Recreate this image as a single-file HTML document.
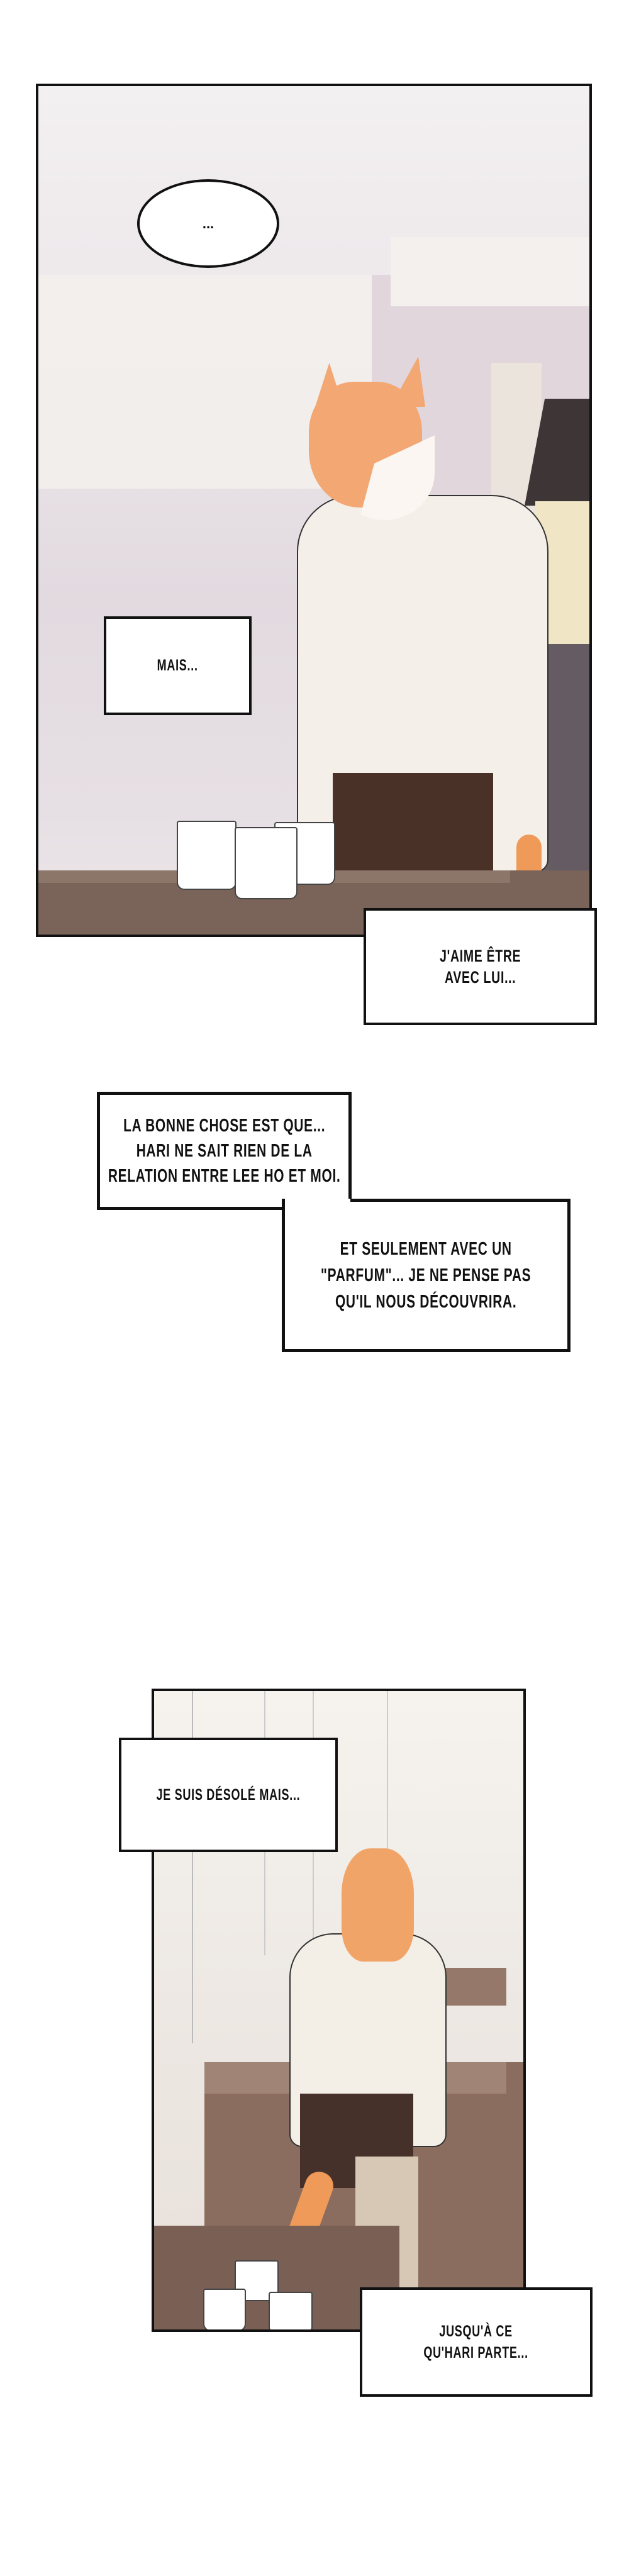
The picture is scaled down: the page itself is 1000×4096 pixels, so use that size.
<!DOCTYPE html>
<html><head><meta charset="utf-8"><style>
*{margin:0;padding:0;box-sizing:border-box}
body{width:1000px;height:4096px;background:#fff;position:relative;overflow:hidden;font-family:"Liberation Sans",sans-serif}
.a{position:absolute}
.box{position:absolute;background:#fff;border:4px solid #111;display:flex;align-items:center;justify-content:center;text-align:center;font-weight:bold;color:#111}
.box span{display:inline-block;white-space:nowrap;transform:scaleX(.72);letter-spacing:1px}
.cup{position:absolute;background:#fff;border:2px solid #444;border-radius:4px 4px 12px 12px}
</style></head><body>

<!-- Panel 1 -->
<div class="a" style="left:57px;top:133px;width:884px;height:1357px;border:4px solid #111;overflow:hidden;background:linear-gradient(180deg,#f3f0f1 0%,#ece7ea 30%,#e2dadf 60%,#e6dfe3 85%,#ece7ea 100%)">
  <div class="a" style="left:0;top:300px;width:560px;height:340px;background:#f3f0ec;opacity:.85"></div>
  <div class="a" style="left:530px;top:300px;width:350px;height:560px;background:#e0d6dc"></div>
  <div class="a" style="left:560px;top:240px;width:320px;height:110px;background:#f3f0ee"></div>
  <div class="a" style="left:720px;top:440px;width:80px;height:300px;background:#ebe4dc"></div>
  <!-- lamp -->
  <div class="a" style="left:773px;top:497px;width:107px;height:170px;background:#3e3537;clip-path:polygon(30% 0,100% 0,100% 100%,0 100%)"></div>
  <div class="a" style="left:790px;top:660px;width:90px;height:230px;background:#f0e6c6"></div>
  <div class="a" style="left:783px;top:887px;width:97px;height:440px;background:#645b63"></div>
  <!-- shirt -->
  <div class="a" style="left:411px;top:650px;width:400px;height:600px;background:#f4efe9;border:2px solid #333;border-radius:90px 90px 20px 20px"></div>
  <!-- apron -->
  <div class="a" style="left:468px;top:1092px;width:255px;height:175px;background:#4a3128"></div>
  <!-- head -->
  <div class="a" style="left:430px;top:470px;width:180px;height:200px;background:#f3a772;border-radius:40% 40% 45% 45%"></div>
  <div class="a" style="left:470px;top:540px;width:160px;height:150px;background:#fbf6f2;border-radius:0 0 50% 50%;clip-path:polygon(40% 40%,100% 10%,100% 100%,25% 100%)"></div>
  <div class="a" style="left:440px;top:440px;width:45px;height:70px;background:#f3a772;clip-path:polygon(50% 0,100% 100%,0 100%)"></div>
  <div class="a" style="left:560px;top:430px;width:55px;height:80px;background:#f3a772;clip-path:polygon(80% 0,100% 100%,0 100%)"></div>
  <!-- orange tail -->
  <div class="a" style="left:760px;top:1190px;width:40px;height:110px;background:#f09a5a;border-radius:20px"></div>
  <!-- table -->
  <div class="a" style="left:0;top:1247px;width:884px;height:113px;background:#7a6358"></div>
  <div class="a" style="left:0;top:1247px;width:750px;height:20px;background:#8c766a"></div>
  <!-- mugs -->
  <div class="cup" style="left:220px;top:1168px;width:95px;height:110px"></div>
  <div class="cup" style="left:375px;top:1170px;width:97px;height:100px"></div>
  <div class="cup" style="left:312px;top:1178px;width:100px;height:115px"></div>
</div>

<div class="a" style="left:218px;top:285px;width:226px;height:141px;border:4px solid #111;border-radius:50%;background:#fff;display:flex;align-items:center;justify-content:center;font-size:22px;font-weight:bold">...</div>
<div class="box" style="left:165px;top:980px;width:235px;height:157px;font-size:25px"><span>MAIS...</span></div>
<div class="box" style="left:578px;top:1444px;width:371px;height:186px;font-size:27px;line-height:34px"><span>J'AIME ÊTRE<br>AVEC LUI...</span></div>

<div class="box" style="left:154px;top:1736px;width:405px;height:188px;font-size:29px;line-height:40px;border-width:5px"><span>LA BONNE CHOSE EST QUE...<br>HARI NE SAIT RIEN DE LA<br>RELATION ENTRE LEE HO ET MOI.</span></div>
<div class="box" style="left:448px;top:1906px;width:459px;height:244px;font-size:29px;line-height:42px;border-width:5px;border-top:none;padding-top:4px"><span>ET SEULEMENT AVEC UN<br>"PARFUM"... JE NE PENSE PAS<br>QU'IL NOUS DÉCOUVRIRA.</span></div>
<div class="a" style="left:557px;top:1906px;width:350px;height:5px;background:#111"></div>

<!-- Panel 2 -->
<div class="a" style="left:241px;top:2685px;width:595px;height:1023px;border:4px solid #111;overflow:hidden;background:linear-gradient(180deg,#f6f3ef 0%,#ede8e3 50%,#e8e0da 100%)">
  <div class="a" style="left:60px;top:0;width:2px;height:560px;background:#bbb"></div>
  <div class="a" style="left:175px;top:0;width:2px;height:420px;background:#ccc"></div>
  <div class="a" style="left:252px;top:0;width:2px;height:430px;background:#ccc"></div>
  <div class="a" style="left:370px;top:0;width:2px;height:270px;background:#ccc"></div>
  <div class="a" style="left:80px;top:590px;width:515px;height:430px;background:#8a6d5f"></div>
  <div class="a" style="left:80px;top:590px;width:480px;height:50px;background:#a08476"></div>
  <div class="a" style="left:220px;top:440px;width:340px;height:60px;background:#96786a"></div>
  <!-- person -->
  <div class="a" style="left:215px;top:385px;width:250px;height:340px;background:#f3eee6;border:2px solid #333;border-radius:70px 70px 20px 20px"></div>
  <div class="a" style="left:232px;top:640px;width:180px;height:150px;background:#45302a"></div>
  <div class="a" style="left:320px;top:740px;width:100px;height:245px;background:#d7c8b5"></div>
  <div class="a" style="left:298px;top:250px;width:115px;height:180px;background:#f1a468;border-radius:40% 40% 30% 30%"></div>
  <div class="a" style="left:215px;top:760px;width:45px;height:190px;background:#ef9a58;border-radius:22px;transform:rotate(20deg)"></div>
  <!-- tray and cups -->
  <div class="a" style="left:0;top:850px;width:390px;height:170px;background:#7a5f55"></div>
  <div class="cup" style="left:128px;top:905px;width:70px;height:65px"></div>
  <div class="cup" style="left:78px;top:950px;width:68px;height:68px"></div>
  <div class="cup" style="left:182px;top:955px;width:70px;height:68px"></div>
</div>

<div class="box" style="left:189px;top:2763px;width:348px;height:182px;font-size:25px"><span>JE SUIS DÉSOLÉ MAIS...</span></div>
<div class="box" style="left:572px;top:3637px;width:370px;height:174px;font-size:25px;line-height:34px"><span>JUSQU'À CE<br>QU'HARI PARTE...</span></div>

</body></html>
